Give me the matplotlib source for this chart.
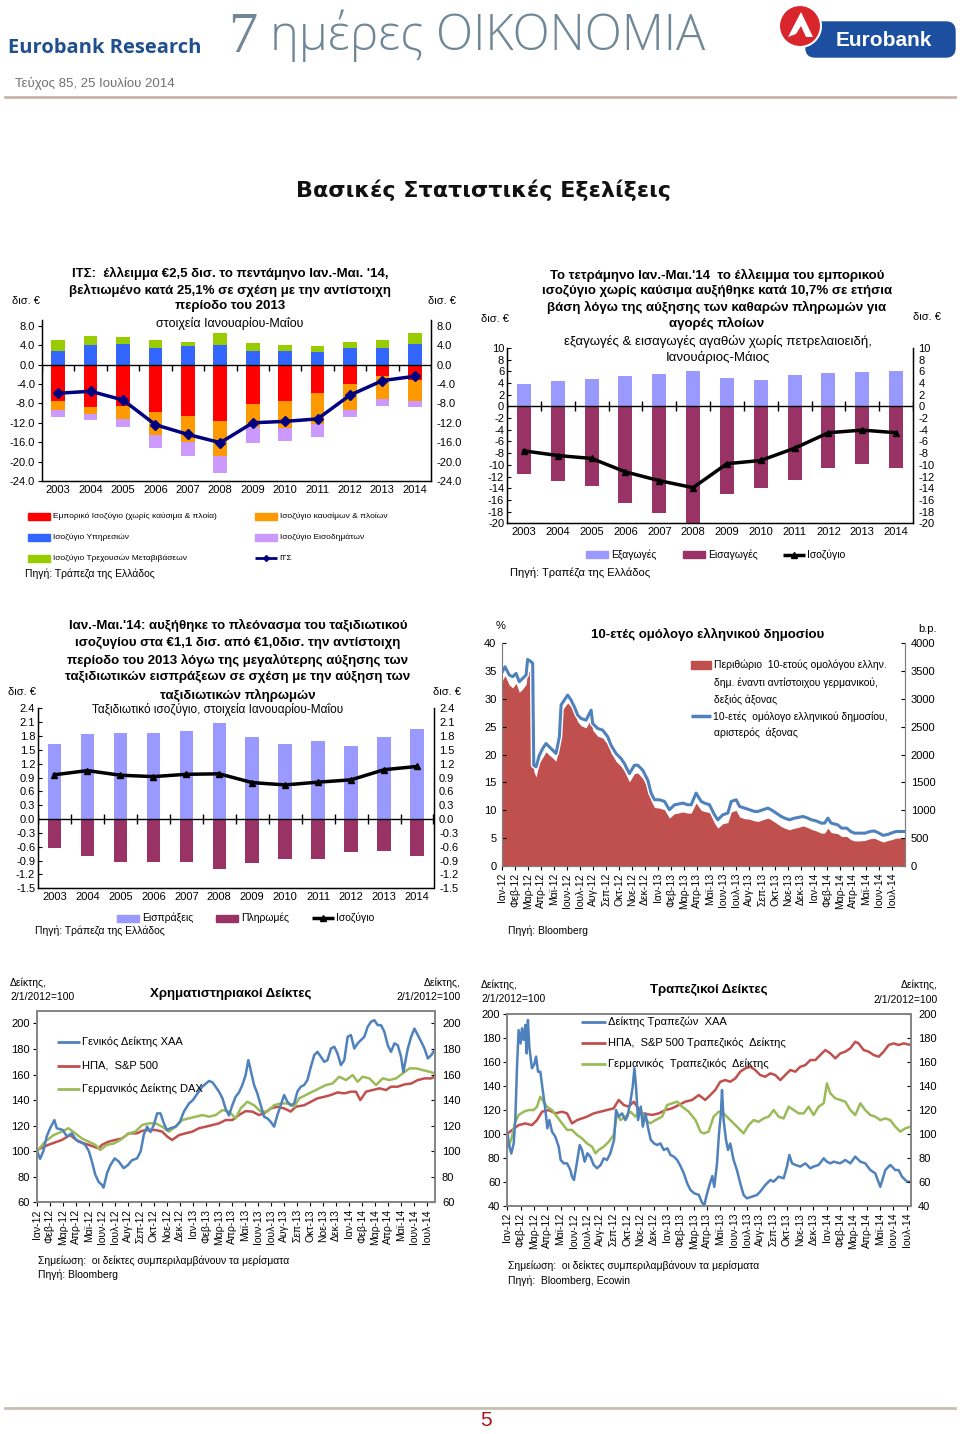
import numpy as np
import matplotlib
matplotlib.use("Agg")
import matplotlib.pyplot as plt
from matplotlib.patches import Rectangle, Circle, FancyBboxPatch, Polygon
from matplotlib.lines import Line2D
import matplotlib.patheffects as pe

plt.rcParams['font.family'] = ['Liberation Sans', 'DejaVu Sans']

# ---------------- data ----------------
years = [str(y) for y in range(2003, 2015)]

# ΙΤΣ, Ιαν-Μαι (δισ. €)
its_services = [2.75, 4.0, 4.2, 3.4, 3.8, 4.1, 2.9, 2.9, 2.7, 3.4, 3.4, 4.3]
its_transfers = [2.35, 2.0, 1.5, 1.7, 0.8, 2.35, 1.5, 1.1, 1.15, 1.2, 1.7, 2.15]
its_trade = [-7.4, -8.8, -8.6, -9.7, -10.6, -11.6, -8.2, -7.5, -5.8, -4.0, -2.4, -3.2]
its_fuel = [-1.9, -1.4, -2.6, -4.9, -5.3, -7.2, -4.7, -5.6, -6.4, -5.3, -4.7, -4.4]
its_income = [-1.55, -1.3, -1.6, -2.6, -3.0, -3.5, -3.2, -2.6, -2.8, -1.4, -1.35, -1.2]
its_total = [-5.9, -5.5, -7.3, -12.4, -14.4, -16.1, -12.0, -11.7, -11.2, -6.3, -3.3, -2.4]

# εμπόριο αγαθών χωρίς πετρελαιοειδή
exports = [3.77, 4.4, 4.7, 5.15, 5.6, 6.05, 4.85, 4.57, 5.43, 5.7, 5.95, 6.05]
imports = [-11.5, -12.7, -13.7, -16.5, -18.2, -19.9, -15.0, -13.9, -12.6, -10.5, -9.9, -10.6]
trade_bal = [-7.6, -8.4, -8.9, -11.2, -12.7, -13.9, -9.8, -9.25, -7.15, -4.5, -4.05, -4.5]

# ταξιδιωτικό ισοζύγιο
tour_rec = [1.62, 1.85, 1.86, 1.86, 1.90, 2.09, 1.77, 1.62, 1.70, 1.59, 1.77, 1.96]
tour_pay = [-0.63, -0.79, -0.92, -0.92, -0.92, -1.08, -0.95, -0.87, -0.87, -0.71, -0.69, -0.79]
tour_bal = [0.96, 1.05, 0.95, 0.92, 0.97, 0.98, 0.79, 0.74, 0.80, 0.85, 1.07, 1.14]

month_names = ['Ιαν', 'Φεβ', 'Μαρ', 'Απρ', 'Μαϊ', 'Ιουν', 'Ιουλ', 'Αυγ', 'Σεπ', 'Οκτ', 'Νοε', 'Δεκ']
month_labels = [f"{month_names[i % 12]}-{12 + i // 12}" for i in range(31)]

# 10-ετές ομόλογο: (μήνας από 1/2012, απόδοση %, περιθώριο b.p.)
bond = [
    (0.03, 34.9, 3330), (0.23, 35.8, 3420), (0.56, 34.3, 3250), (0.82, 34.0, 3200),
    (1.08, 34.6, 3280), (1.33, 33.1, 3120), (1.59, 33.7, 3180), (1.85, 34.3, 3260),
    (1.97, 37.1, 3500), (2.23, 36.7, 3500), (2.36, 36.4, 3470), (2.44, 18.1, 1700),
    (2.62, 17.8, 1600), (2.87, 19.9, 1850), (3.13, 21.1, 1950), (3.38, 22.0, 2050),
    (3.64, 21.4, 1990), (3.90, 20.8, 1940), (4.15, 20.2, 1880), (4.41, 23.2, 2150),
    (4.54, 28.9, 2760), (4.79, 29.8, 2850), (5.05, 30.7, 2930), (5.31, 29.8, 2860),
    (5.56, 28.6, 2740), (5.82, 27.1, 2590), (6.08, 26.5, 2520), (6.46, 26.2, 2480),
    (6.85, 28.0, 2650), (6.97, 25.6, 2440), (7.36, 24.7, 2330), (7.74, 24.4, 2300),
    (8.13, 23.2, 2180), (8.38, 21.7, 2030), (8.77, 20.2, 1880), (9.15, 19.3, 1790),
    (9.41, 18.4, 1700), (9.79, 16.6, 1510), (10.18, 18.1, 1660), (10.44, 18.1, 1670),
    (10.82, 17.2, 1570), (11.21, 15.4, 1400), (11.46, 13.1, 1170), (11.72, 11.9, 1050),
    (12.10, 11.9, 1040), (12.49, 11.6, 1010), (12.87, 10.1, 860), (13.26, 11.0, 940),
    (13.51, 11.1, 950), (13.90, 11.3, 970), (14.28, 11.0, 950), (14.54, 11.0, 950),
    (14.92, 13.1, 1130), (15.31, 11.6, 1000), (15.56, 11.3, 980), (15.95, 11.0, 960),
    (16.33, 9.2, 770), (16.59, 8.3, 680), (16.97, 9.2, 760), (17.36, 9.5, 780),
    (17.62, 11.6, 970), (18.00, 11.9, 1000), (18.26, 10.7, 880), (18.64, 10.4, 850),
    (19.03, 10.1, 840), (19.41, 9.8, 810), (19.67, 9.8, 800), (20.05, 10.1, 830),
    (20.44, 10.4, 860), (20.69, 10.1, 830), (21.08, 9.5, 770), (21.46, 8.9, 710),
    (21.72, 8.6, 680), (22.10, 8.3, 650), (22.49, 8.6, 680), (22.74, 8.7, 690),
    (23.13, 8.9, 720), (23.51, 8.6, 690), (23.77, 8.3, 660), (24.15, 8.1, 630),
    (24.54, 7.7, 590), (24.80, 7.7, 590), (25.05, 8.6, 680), (25.30, 7.7, 600),
    (25.80, 7.4, 580), (26.10, 6.8, 530), (26.50, 6.8, 530), (26.80, 6.2, 475),
    (27.10, 5.9, 450), (27.50, 5.9, 450), (27.90, 5.9, 460), (28.30, 6.2, 490),
    (28.60, 6.3, 500), (28.90, 6.0, 470), (29.30, 5.5, 430), (29.70, 5.7, 460),
    (29.90, 5.9, 470), (30.30, 6.2, 500), (30.70, 6.2, 505), (31.00, 6.2, 505),
]

# χρηματιστηριακοί δείκτες (μήνας, τιμή), 2/1/2012=100
ase = [
    (0.03, 100), (0.26, 94), (0.51, 100), (0.77, 111.6), (1.03, 118), (1.36, 124.4), (1.54, 118),
    (2.01, 116.6), (2.31, 111.6), (2.70, 114), (3.01, 109), (3.34, 107.5), (3.73, 105), (4.01, 100),
    (4.24, 92), (4.50, 81.6), (4.76, 76), (5.01, 73.6), (5.14, 71.5), (5.40, 82.7), (5.66, 89),
    (5.99, 94.4), (6.30, 92), (6.68, 86.7), (6.99, 89), (7.33, 93), (7.71, 94.4), (7.99, 100),
    (8.23, 113), (8.48, 119.2), (8.74, 115), (9.00, 120.5), (9.25, 129.6), (9.51, 129.6),
    (9.77, 121.8), (10.0, 116.6), (10.28, 118), (10.67, 119.2), (11.0, 123), (11.31, 131),
    (11.70, 137.4), (12.0, 140), (12.34, 145), (12.72, 150.5), (13.01, 153), (13.24, 155),
    (13.50, 154), (14.01, 146.6), (14.27, 141.4), (14.52, 133), (14.77, 128), (15.03, 136),
    (15.28, 142.6), (15.54, 146), (15.80, 151.8), (16.05, 159.6), (16.26, 171.3), (16.44, 163.5),
    (16.70, 151.8), (16.95, 145.3), (17.21, 136), (17.47, 127), (17.72, 125.7), (17.98, 123),
    (18.24, 119.2), (18.49, 128.3), (18.75, 136), (19.01, 144), (19.26, 138.7), (19.52, 136),
    (19.78, 137.4), (20.03, 146.6), (20.29, 150.5), (20.55, 151.8), (20.80, 155.7), (21.06, 166),
    (21.32, 175.2), (21.57, 177.8), (21.83, 174), (22.09, 170), (22.34, 171.3), (22.60, 180.4),
    (22.86, 181.8), (23.11, 176.5), (23.37, 167.4), (23.63, 171.3), (23.89, 189.6), (24.14, 190.9),
    (24.40, 180.4), (24.66, 184.4), (24.91, 187), (25.17, 189.6), (25.43, 197.4), (25.68, 201.3),
    (25.94, 202.6), (26.20, 198.7), (26.45, 198.7), (26.71, 193.5), (26.97, 183), (27.22, 177.8),
    (27.48, 184.4), (27.74, 183), (27.99, 174), (28.17, 162), (28.51, 180.4), (28.77, 189.6),
    (29.02, 196), (29.28, 190.9), (29.54, 185.7), (29.79, 180.4), (30.05, 172.6), (30.31, 175.2),
    (30.56, 179),
]
spx = [
    (0.03, 101), (0.90, 105), (1.93, 108.8), (2.57, 112.6), (3.21, 107.5), (3.98, 105), (4.76, 102.2),
    (5.01, 105), (5.53, 107.5), (6.04, 108.8), (6.56, 110), (7.07, 114), (7.71, 114), (8.10, 116),
    (8.61, 116.6), (9.13, 116.6), (9.64, 115.3), (10.03, 111.4), (10.41, 108.8), (10.93, 112.6),
    (11.44, 114), (11.95, 115.3), (12.47, 118), (12.98, 119.2), (13.50, 120.5), (14.01, 121.8),
    (14.52, 124.4), (15.03, 124.4), (15.54, 128.3), (16.05, 131.4), (16.57, 131), (17.08, 128.3),
    (17.47, 129.6), (17.98, 133.5), (18.49, 134.8), (19.01, 133.5), (19.52, 131), (19.90, 134.8),
    (20.55, 136), (21.06, 138.7), (21.57, 141.4), (22.09, 142.6), (22.60, 144), (23.11, 146),
    (23.63, 145.3), (24.14, 146.6), (24.53, 146.6), (24.86, 140), (25.30, 146.6), (25.81, 147.9),
    (26.33, 149.2), (26.84, 147.9), (27.22, 150.5), (27.74, 150.5), (28.25, 152.3), (28.77, 153),
    (29.28, 155.7), (29.79, 157), (30.31, 157), (30.56, 158.3),
]
dax = [
    (0.03, 100), (0.64, 107.5), (1.29, 112.6), (1.93, 115.3), (2.44, 118), (2.96, 114), (3.47, 110),
    (3.98, 107.5), (4.50, 105), (4.88, 101), (5.40, 105), (5.91, 106), (6.43, 108.8), (7.07, 114),
    (7.58, 115.3), (8.10, 120.5), (8.61, 121.8), (9.13, 121.8), (9.64, 119.2), (10.15, 115.3),
    (10.67, 119.2), (11.18, 124.4), (11.70, 125.7), (12.21, 127), (12.72, 128.3), (13.24, 127),
    (13.75, 128.3), (14.27, 132.2), (14.78, 131), (15.28, 125.7), (15.67, 133.5), (16.18, 138.7),
    (16.70, 136), (17.21, 131), (17.72, 131), (18.24, 136), (18.75, 137.4), (19.26, 137.4),
    (19.78, 134.8), (20.16, 141.4), (20.68, 144), (21.19, 146.6), (21.70, 149.2), (22.22, 151.8),
    (22.73, 153), (23.24, 158.3), (23.76, 155.7), (24.27, 159.6), (24.66, 154.4), (25.04, 158.3),
    (25.56, 157), (26.07, 151.8), (26.58, 157), (27.10, 155.7), (27.61, 157), (28.12, 161),
    (28.64, 164.8), (29.15, 164.8), (29.66, 163.5), (30.18, 162.2), (30.56, 161),
]

# τραπεζικοί δείκτες (μήνας, τιμή), 2/1/2012=100
gr_banks = [
    (0.03, 100), (0.10, 92.2), (0.30, 83.8), (0.48, 92.2), (0.60, 111.7), (0.73, 156.2), (0.85, 186.8),
    (1.00, 175.7), (1.10, 188.3), (1.23, 178.6), (1.35, 191.1), (1.45, 167.4), (1.55, 195.2),
    (1.65, 173), (1.85, 155), (2.01, 157.7), (2.16, 164.7), (2.31, 152.1), (2.48, 152.1),
    (2.66, 136.8), (2.86, 120.1), (3.01, 104.8), (3.16, 111.7), (3.36, 102), (3.61, 97.8),
    (3.86, 89.5), (4.01, 78.4), (4.24, 75.6), (4.49, 75.6), (4.74, 70), (4.86, 64.5), (5.01, 61.7),
    (5.24, 77), (5.44, 90.9), (5.61, 86.8), (5.81, 77), (6.02, 84), (6.24, 81.2), (6.49, 74.3),
    (6.74, 71.5), (7.02, 74.3), (7.24, 79.8), (7.49, 78.4), (7.74, 84), (8.02, 95.1), (8.17, 120.1),
    (8.37, 114.6), (8.62, 117.3), (8.87, 111.7), (9.02, 114.6), (9.25, 127.1), (9.42, 139.6),
    (9.55, 154.9), (9.67, 139.6), (9.82, 111.7), (10.03, 122.9), (10.18, 106.2), (10.38, 117.3),
    (10.58, 104.8), (10.78, 95.1), (11.03, 92.2), (11.25, 90.9), (11.50, 92.2), (11.75, 86.8),
    (12.03, 88.1), (12.26, 82.6), (12.51, 81.2), (12.76, 78.4), (13.03, 72.9), (13.26, 67.3),
    (13.51, 59), (13.76, 53.4), (14.04, 50.6), (14.39, 49.3), (14.62, 43), (14.80, 40.5),
    (14.95, 48), (15.20, 58), (15.40, 65), (15.55, 56), (15.75, 75), (15.90, 100), (16.05, 118),
    (16.13, 136.8), (16.25, 111.7), (16.43, 95.1), (16.58, 86.8), (16.75, 92.2), (17.00, 78.4),
    (17.25, 70), (17.50, 59), (17.75, 49.2), (18.00, 46.4), (18.38, 47.8), (18.76, 49.2), (19.00, 52),
    (19.38, 57.5), (19.76, 61.7), (20.01, 60.3), (20.38, 64.5), (20.76, 63.1), (21.01, 72.9),
    (21.19, 82.6), (21.39, 75.6), (21.64, 74.3), (22.01, 72.9), (22.39, 75.6), (22.76, 71.5),
    (23.01, 72.9), (23.39, 74.3), (23.77, 79.8), (24.00, 77), (24.27, 75.6), (24.52, 77),
    (25.00, 75.6), (25.39, 78.4), (25.77, 75.6), (26.14, 81.2), (26.52, 77), (26.89, 75.6),
    (27.27, 70), (27.64, 67.3), (28.02, 56), (28.40, 70), (28.77, 74.3), (29.15, 70), (29.40, 70),
    (29.65, 64.5), (30.03, 60.3), (30.30, 60.3),
]
us_banks = [
    (0.03, 100.6), (0.35, 103.3), (0.85, 107.5), (1.35, 108.9), (1.85, 107.5), (2.23, 111.7),
    (2.61, 118.7), (3.11, 120.1), (3.61, 117.3), (4.11, 118.7), (4.49, 117.3), (4.86, 108.9),
    (5.24, 111.7), (5.61, 113.1), (5.99, 114.6), (6.49, 117.3), (6.99, 118.7), (7.49, 120.1),
    (7.99, 121.5), (8.37, 128.5), (8.75, 124.3), (9.12, 122.9), (9.50, 127), (9.87, 121),
    (10.13, 117.3), (10.88, 116), (11.38, 117.3), (11.88, 120.1), (12.38, 121.5), (12.88, 124.3),
    (13.38, 127.1), (13.88, 128.5), (14.39, 132.6), (14.87, 128.5), (15.25, 132.6), (15.62, 136.8),
    (16.00, 143.7), (16.38, 145.1), (16.75, 143.7), (17.13, 146.5), (17.50, 152.1), (17.88, 154.9),
    (18.25, 156.2), (18.63, 153.5), (19.00, 149.3), (19.38, 147.9), (19.76, 150.7), (20.13, 149.3),
    (20.51, 145.1), (20.88, 149.3), (21.26, 153.5), (21.64, 152.1), (22.01, 156.2), (22.39, 157.6),
    (22.76, 161.8), (23.14, 161.8), (23.51, 166), (23.89, 170.2), (24.27, 167.4), (24.64, 163.2),
    (25.02, 167.4), (25.39, 168.8), (25.77, 171.6), (26.14, 177.1), (26.39, 175.7), (26.77, 170.2),
    (27.15, 168.8), (27.52, 166), (27.90, 164.6), (28.27, 168.8), (28.65, 174.4), (29.02, 175.7),
    (29.40, 174.4), (29.78, 175.7), (30.30, 174.4),
]
de_banks = [
    (0.03, 92.2), (0.10, 89.5), (0.35, 97.9), (0.60, 110.3), (0.85, 115.9), (1.23, 118.7),
    (1.60, 120.1), (1.98, 120.1), (2.23, 122.9), (2.48, 131.2), (2.73, 127.1), (2.98, 122.9),
    (3.36, 120.1), (3.73, 114.6), (4.11, 109), (4.49, 103.5), (4.86, 103.5), (5.24, 99.3),
    (5.61, 96.5), (5.99, 92.2), (6.37, 89.5), (6.62, 84), (6.87, 86.8), (7.24, 89.5), (7.62, 93.6),
    (7.99, 99.2), (8.25, 117.3), (8.50, 111.7), (8.87, 114.6), (9.25, 118.7), (9.62, 114.6),
    (10.00, 120.1), (10.38, 111.7), (10.75, 109), (11.13, 111.7), (11.63, 114.6), (12.01, 124.3),
    (12.38, 125.7), (12.76, 127.1), (13.13, 122.9), (13.63, 118.7), (14.14, 111.7), (14.51, 102),
    (14.75, 100.6), (15.12, 102), (15.50, 114.6), (15.88, 118.7), (16.25, 117.3), (16.63, 113.1),
    (17.00, 109), (17.38, 104.8), (17.75, 100.6), (18.13, 107.5), (18.50, 111.7), (18.88, 110.3),
    (19.26, 113.1), (19.63, 114.6), (20.01, 120.1), (20.38, 114.6), (20.76, 113.1), (21.14, 122.9),
    (21.51, 120.1), (21.89, 117.3), (22.26, 117.3), (22.64, 122.9), (23.01, 115.9), (23.39, 122.9),
    (23.77, 125.7), (24.01, 142.3), (24.27, 134), (24.64, 129.8), (25.02, 128.5), (25.39, 127.1),
    (25.77, 120.1), (26.14, 115.9), (26.52, 125.7), (26.89, 120.1), (27.27, 115.9), (27.64, 114.6),
    (28.02, 111.7), (28.40, 113.1), (28.77, 111.7), (29.15, 106.2), (29.52, 102), (29.90, 104.8),
    (30.30, 106.2),
]

# ---------------- figure ----------------
W, H = 960, 1434
fig = plt.figure(figsize=(W / 100, H / 100), dpi=100)


def fx(x):
    return x / W


def fy(y):
    return 1 - y / H


def txt(x, y, s, size=8, ha='left', va='center', **kw):
    fig.text(fx(x), fy(y), s, fontsize=size, ha=ha, va=va, **kw)


def add_ax(x0, y0, x1, y1):
    return fig.add_axes([fx(x0), fy(y1), (x1 - x0) / W, (y1 - y0) / H])


def leg_patch(x, y, color, label, size=7, w=22, h=7):
    fig.add_artist(Rectangle((fx(x), fy(y + h / 2)), w / W, h / H, color=color,
                             transform=fig.transFigure))
    txt(x + w + 3, y, label, size)


def leg_line(x, y, color, label, size=7, w=22, lw=2.5, marker=None, ms=5):
    fig.add_artist(Line2D([fx(x), fx(x + w)], [fy(y), fy(y)], color=color, lw=lw,
                          transform=fig.transFigure, solid_capstyle='butt'))
    if marker:
        fig.add_artist(Line2D([fx(x + w / 2)], [fy(y)], color=color, marker=marker, ms=ms,
                              transform=fig.transFigure))
    txt(x + w + 2, y, label, size)


# ---------------- header ----------------
txt(8, 48, 'Eurobank Research', 14.5, family='Open Sans', weight='bold', color='#1f4f8f')
txt(228, 38, '7', 42, family='Liberation Serif', color='#6f8796')
txt(270, 36, 'ημέρες ΟΙΚΟΝΟΜΙΑ', 35, family='Open Sans', weight='light', color='#6f8796')
txt(15, 83, 'Τεύχος 85, 25 Ιουλίου 2014', 9.5, color='#707070')
fig.add_artist(Line2D([fx(5), fx(955)], [fy(97), fy(97)], color='#c9b5ab', lw=2,
                      transform=fig.transFigure))

lax = add_ax(770, 0, 960, 64)
lax.set_xlim(770, 960)
lax.set_ylim(64, 0)
lax.axis('off')
lax.add_patch(FancyBboxPatch((806, 22), 149, 35, boxstyle='round,pad=0,rounding_size=9',
                             color='#1c4f9f'))
lax.add_patch(Circle((800, 26), 21, facecolor='#d8262c', edgecolor='white', lw=1.5))
lax.add_patch(Polygon([(788, 37), (801, 12), (813, 37), (806, 37), (801, 26), (796, 34)],
                      closed=True, facecolor='white', edgecolor='none'))
lax.text(884, 41, 'Eurobank', fontsize=15, weight='bold', color='white', ha='center',
         va='center')

txt(483, 190, 'Βασικές Στατιστικές Εξελίξεις', 16, ha='center', weight='bold',
    family='DejaVu Sans', color='#111111')


# ---------------- bar charts ----------------
def bar_axes(box, ylim, ticks, fmt):
    ax = add_ax(*box)
    ax.set_xlim(-0.5, 11.5)
    ax.set_ylim(*ylim)
    ax.set_yticks(ticks)
    ax.set_yticklabels([fmt % t for t in ticks])
    ax.set_xticks(range(12))
    ax.set_xticklabels(years)
    ax.tick_params(axis='x', length=0, pad=3, labelsize=8)
    ax.tick_params(axis='y', direction='out', length=3, pad=2, labelsize=8)
    ax.spines['top'].set_visible(False)
    for s in ('left', 'right', 'bottom'):
        ax.spines[s].set_linewidth(1)
    axr = ax.twinx()
    axr.set_ylim(*ylim)
    axr.set_yticks(ticks)
    axr.set_yticklabels([fmt % t for t in ticks])
    axr.tick_params(axis='y', direction='in', length=0, pad=4, labelsize=8)
    axr.spines['top'].set_visible(False)
    ax.set_zorder(axr.get_zorder() + 1)
    ax.patch.set_visible(False)
    return ax


x = np.arange(12)
bounds = np.arange(-0.5, 12, 1.0)
title_size = 9.5

# chart 1: ΙΤΣ
ax1 = bar_axes((42, 320, 431, 481), (-24, 9.2), np.arange(-24, 9, 4), '%.1f')
ax1.bar(x, its_services, 0.42, color='#3366ff')
ax1.bar(x, its_transfers, 0.42, bottom=its_services, color='#99cc00')
ax1.bar(x, its_trade, 0.42, color='#ff0000')
ax1.bar(x, its_fuel, 0.42, bottom=its_trade, color='#ff9900')
low = np.array(its_trade) + np.array(its_fuel)
ax1.bar(x, its_income, 0.42, bottom=low, color='#cc99ff')
ax1.axhline(0, color='black', lw=1)
ax1.plot(bounds, np.zeros_like(bounds), ls='none', marker=3, ms=4, mew=1, color='black')
ax1.plot(x, its_total, color='#000080', lw=2.5, marker='D', ms=5, zorder=5)

txt(230, 273, "ΙΤΣ:  έλλειμμα €2,5 δισ. το πεντάμηνο Ιαν.-Μαι. '14,", title_size, ha='center', weight='bold')
txt(230, 290, 'βελτιωμένο κατά 25,1% σε σχέση με την αντίστοιχη', title_size, ha='center', weight='bold')
txt(230, 306.5, 'περίοδο του 2013', title_size, ha='center', weight='bold')
txt(230, 323, 'στοιχεία Ιανουαρίου-Μαΐου', 9, ha='center')
txt(12, 301, 'δισ. €', 8)
txt(428, 301, 'δισ. €', 8)
leg_patch(28, 516, '#ff0000', 'Εμπορικό Ισοζύγιο (χωρίς καύσιμα & πλοία)', 6)
leg_patch(255, 516, '#ff9900', 'Ισοζύγιο καυσίμων & πλοίων', 6)
leg_patch(28, 537, '#3366ff', 'Ισοζύγιο Υπηρεσιών', 6)
leg_patch(255, 537, '#cc99ff', 'Ισοζύγιο Εισοδημάτων', 6)
leg_patch(28, 558, '#99cc00', 'Ισοζύγιο Τρεχουσών Μεταβιβάσεων', 6)
leg_line(255, 558, '#000080', 'ΙΤΣ', 6, lw=2, marker='D', ms=3)
txt(25, 574, 'Πηγή: Τράπεζα της Ελλάδος', 7.5)

# chart 2: εμπόριο αγαθών
ax2 = bar_axes((507, 348, 913, 523.3), (-20, 10), np.arange(-20, 11, 2), '%d')
ax2.bar(x, exports, 0.41, color='#9999ff')
ax2.bar(x, imports, 0.41, color='#993366')
ax2.axhline(0, color='black', lw=1)
ax2.plot(bounds, np.zeros_like(bounds), ls='none', marker='|', ms=7, mew=1, color='black')
ax2.plot(x, trade_bal, color='black', lw=2.5, marker='^', ms=5, zorder=5)
ax2.tick_params(axis='y', direction='in', length=3, pad=2)

cx2 = 717
txt(cx2, 275, "Το τετράμηνο Ιαν.-Μαι.'14  το έλλειμμα του εμπορικού", title_size, ha='center', weight='bold')
txt(cx2, 291, 'ισοζύγιο χωρίς καύσιμα αυξήθηκε κατά 10,7% σε ετήσια', title_size, ha='center', weight='bold')
txt(cx2, 307.5, 'βάση λόγω της αύξησης των καθαρών πληρωμών για', title_size, ha='center', weight='bold')
txt(cx2, 323.5, 'αγορές πλοίων', title_size, ha='center', weight='bold')
txt(718, 341, 'εξαγωγές & εισαγωγές αγαθών χωρίς πετρελαιοειδή,', 9.5, ha='center')
txt(718, 357, 'Ιανουάριος-Μάιος', 9.5, ha='center')
txt(481, 319, 'δισ. €', 8)
txt(913, 317, 'δισ. €', 8)
leg_patch(586, 555, '#9999ff', 'Εξαγωγές', 7.5)
leg_patch(683, 555, '#993366', 'Εισαγωγές', 7.5)
leg_line(783, 555, 'black', 'Ισοζύγιο', 7.5, lw=2.5, marker='^', ms=4)
txt(510, 573, 'Πηγή: Τραπέζα της Ελλάδος', 8)

# chart 3: ταξιδιωτικό ισοζύγιο
t3 = np.round(np.arange(-1.5, 2.41, 0.3), 1)
ax3 = bar_axes((38, 708.3, 433.5, 888.3), (-1.5, 2.4), t3, '%.1f')
ax3.bar(x, tour_rec, 0.41, color='#9999ff')
ax3.bar(x, tour_pay, 0.41, color='#993366')
ax3.axhline(0, color='black', lw=1)
ax3.plot(bounds, np.zeros_like(bounds), ls='none', marker='|', ms=7, mew=1, color='black')
ax3.plot(x, tour_bal, color='black', lw=2.5, marker='^', ms=5, zorder=5)
ax3.tick_params(axis='y', direction='in', length=3, pad=2)

cx3 = 238
txt(cx3, 625, "Ιαν.-Μαι.'14: αυξήθηκε το πλεόνασμα του ταξιδιωτικού", title_size, ha='center', weight='bold')
txt(cx3, 643, 'ισοζυγίου στα €1,1 δισ. από €1,0δισ. την αντίστοιχη', title_size, ha='center', weight='bold')
txt(cx3, 660.5, 'περίοδο του 2013 λόγω της μεγαλύτερης αύξησης των', title_size, ha='center', weight='bold')
txt(cx3, 677, 'ταξιδιωτικών εισπράξεων σε σχέση με την αύξηση των', title_size, ha='center', weight='bold')
txt(cx3, 695, 'ταξιδιωτικών πληρωμών', title_size, ha='center', weight='bold')
txt(218, 710, 'Ταξιδιωτικό ισοζύγιο, στοιχεία Ιανουαρίου-Μαΐου', 8.5, ha='center')
txt(8, 692, 'δισ. €', 8)
txt(433, 692, 'δισ. €', 8)
leg_patch(117, 918, '#9999ff', 'Εισπράξεις', 7.5)
leg_patch(216, 918, '#993366', 'Πληρωμές', 7.5)
leg_line(312, 918, 'black', 'Ισοζύγιο', 7.5, lw=2.5, marker='^', ms=4)
txt(35, 931, 'Πηγή: Τράπεζα της Ελλάδος', 7.5)


# ---------------- time series ----------------
def time_axes(ax, xmax):
    ax.set_xlim(0, xmax)
    ax.set_xticks(range(31))
    ax.set_xticklabels(month_labels, rotation=90, fontsize=7.5, va='top', ha='center')
    ax.tick_params(axis='x', direction='out', length=3, pad=2)
    ax.tick_params(axis='y', labelsize=8)


# bond
bm, by, bs = zip(*bond)
axb = add_ax(502, 643.3, 905.3, 866)
axbr = axb.twinx()
axbr.fill_between(bm, 0, bs, color='#c0504d', lw=0)
axbr.set_ylim(0, 4000)
axbr.set_yticks(range(0, 4001, 500))
axbr.tick_params(axis='y', direction='in', length=3, pad=4, labelsize=8)
axb.plot(bm, by, color='#4f81bd', lw=2.2,
         path_effects=[pe.Stroke(linewidth=4.2, foreground='white'), pe.Normal()])
axb.set_ylim(0, 40)
axb.set_yticks(range(0, 41, 5))
axb.tick_params(axis='y', direction='in', length=3, pad=4)
time_axes(axb, 31.0)
axb.set_zorder(axbr.get_zorder() + 1)
axb.patch.set_visible(False)
for a in (axb, axbr):
    a.spines['top'].set_visible(False)
    for s in ('left', 'right', 'bottom'):
        a.spines[s].set_color('#808080')

txt(496, 626, '%', 8)
txt(928, 629, 'b.p.', 8, ha='center')
txt(708, 634, '10-ετές ομόλογο ελληνικού δημοσίου', title_size, ha='center', weight='bold')
leg_patch(691, 665, '#c0504d', 'Περιθώριο  10-ετούς ομολόγου ελλην.', 7.5, w=20, h=8)
txt(714, 682.5, 'δημ. έναντι αντίστοιχου γερμανικού,', 7.5)
txt(714, 699.5, 'δεξιός άξονας', 7.5)
leg_line(691, 716.5, '#4f81bd', '10-ετές  ομόλογο ελληνικού δημοσίου,', 7.5, w=20, lw=2.5)
txt(714, 733, 'αριστερός  άξονας', 7.5)
txt(508, 931, 'Πηγή: Bloomberg', 7.5)


def index_chart(box, ylim, step, xmax, series):
    ax = add_ax(*box)
    for data, color in series:
        m, v = zip(*data)
        ax.plot(m, v, color=color, lw=1.8)
    ax.set_ylim(*ylim)
    ticks = range(ylim[0], ylim[1] + 1, step)
    ax.set_yticks(ticks)
    ax.tick_params(axis='y', direction='out', length=3, pad=2)
    time_axes(ax, xmax)
    for s in ax.spines.values():
        s.set_color('#868686')
        s.set_linewidth(1.3)
    axr = ax.twinx()
    axr.set_ylim(*ylim)
    axr.set_yticks(ticks)
    axr.tick_params(axis='y', direction='in', length=3, pad=5, labelsize=8)
    for s in axr.spines.values():
        s.set_color('#868686')
        s.set_linewidth(1.3)
    return ax, axr


# stocks
axs, axs_r = index_chart((36.7, 1010.7, 435, 1202.3), (60, 210), 20, 30.6,
                         [(spx, '#c0504d'), (dax, '#9bbb59'), (ase, '#4f81bd')])
axs.set_yticks(range(60, 201, 20))
axs_r.set_yticks(range(60, 201, 20))
txt(10, 983, 'Δείκτης,', 7.5)
txt(10, 997, '2/1/2012=100', 7.5)
txt(461, 983, 'Δείκτης,', 7.5, ha='right')
txt(461, 997, '2/1/2012=100', 7.5, ha='right')
txt(231, 994, 'Χρηματιστηριακοί Δείκτες', title_size, ha='center', weight='bold')
leg_line(57, 1041.5, '#4f81bd', 'Γενικός Δείκτης ΧΑΑ', 8, w=23, lw=2)
leg_line(57, 1065.5, '#c0504d', 'ΗΠΑ,  S&P 500', 8, w=23, lw=2)
leg_line(57, 1088.5, '#9bbb59', 'Γερμανικός Δείκτης DAX', 8, w=23, lw=2)
txt(38, 1261, 'Σημείωση:  οι δείκτες συμπεριλαμβάνουν τα μερίσματα', 7.5)
txt(38, 1275, 'Πηγή: Bloomberg', 7.5)

# banks
index_chart((507.3, 1014.3, 911.3, 1206), (40, 200), 20, 30.35,
            [(us_banks, '#c0504d'), (de_banks, '#9bbb59'), (gr_banks, '#4f81bd')])
txt(481, 985, 'Δείκτης,', 7.5)
txt(481, 999, '2/1/2012=100', 7.5)
txt(938, 985, 'Δείκτης,', 7.5, ha='right')
txt(938, 1000, '2/1/2012=100', 7.5, ha='right')
txt(709, 990, 'Τραπεζικοί Δείκτες', title_size, ha='center', weight='bold')
leg_line(581, 1021.5, '#4f81bd', 'Δείκτης Τραπεζών  ΧΑΑ', 8, w=25, lw=2)
leg_line(581, 1042.5, '#c0504d', 'ΗΠΑ,  S&P 500 Τραπεζικός  Δείκτης', 8, w=25, lw=2)
leg_line(581, 1064, '#9bbb59', 'Γερμανικός  Τραπεζικός  Δείκτης', 8, w=25, lw=2)
txt(508, 1266, 'Σημείωση:  οι δείκτες συμπεριλαμβάνουν τα μερίσματα', 7.5)
txt(508, 1281, 'Πηγή:  Bloomberg, Ecowin', 7.5)

# footer
fig.add_artist(Line2D([fx(5), fx(955)], [fy(1408), fy(1408)], color='#c8beb0', lw=2,
                      transform=fig.transFigure))
txt(486, 1421, '5', 15, ha='center', color='#a8141c')

fig.savefig('out.png', dpi=100)
